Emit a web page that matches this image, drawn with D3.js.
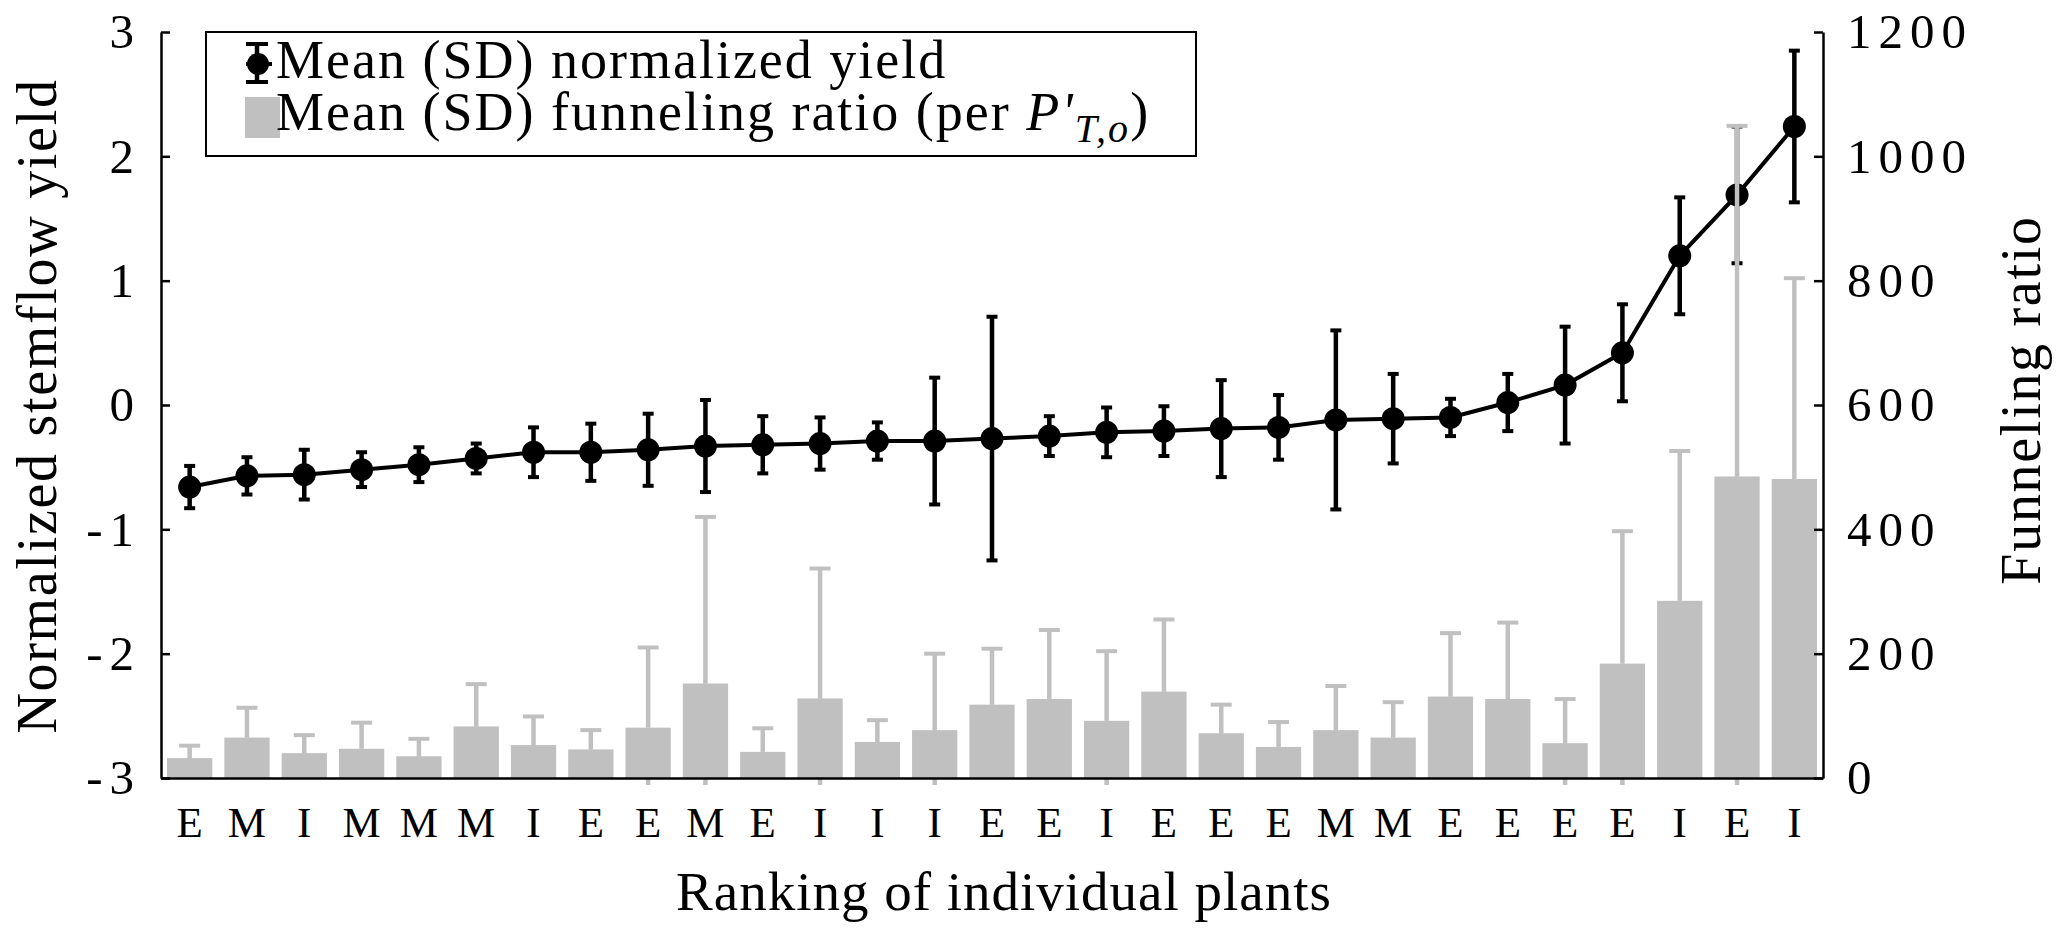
<!DOCTYPE html>
<html>
<head>
<meta charset="utf-8">
<script src="https://cdn.jsdelivr.net/npm/d3@7"></script>
<style>
  body { margin: 0; background: #fff; }
  text { font-family: "Liberation Serif", "Times New Roman", serif; fill: #000; }
</style>
</head>
<body>
<div id="chart"></div>
<script>
// plant type of each ranked plant
const labels = ["E","M","I","M","M","M","I","E","E","M","E","I","I","I","E",
                "E","I","E","E","E","M","M","E","E","E","E","I","E","I"];

// normalized stemflow yield, mean and SD
const yieldMean = [-0.66,-0.57,-0.56,-0.52,-0.48,-0.43,-0.38,-0.38,-0.36,-0.33,-0.32,-0.31,-0.29,-0.29,-0.27,
                   -0.25,-0.22,-0.21,-0.19,-0.18,-0.12,-0.11,-0.10,0.02,0.16,0.42,1.20,1.69,2.24];
const yieldSD = [0.17,0.15,0.20,0.14,0.14,0.12,0.20,0.23,0.29,0.37,0.23,0.21,0.15,0.51,0.98,
                 0.16,0.20,0.20,0.39,0.26,0.72,0.36,0.15,0.23,0.47,0.39,0.47,0.55,0.61];

// funneling ratio, mean and SD
const ratioMean = [32,65,40,47,35,83,53,46,81,152,42,128,58,77,118,
                   127,92,139,72,50,77,65,131,127,56,184,285,485,481];
const ratioSD = [20,48,29,42,28,68,46,31,129,268,38,209,35,123,90,
                 111,112,116,46,40,71,57,102,123,71,213,241,564,323];

const leftTicks = [-3,-2,-1,0,1,2,3];
const rightTicks = [0,200,400,600,800,1000,1200];

// canvas
const canvasWidth = 2067;
const canvasHeight = 932;
const margin = { top: 32, right: 244, bottom: 154, left: 161 };
const w = canvasWidth - margin.left - margin.right;
const h = canvasHeight - margin.top - margin.bottom;

const barGray = "#c0c0c0";

const svg = d3.select("#chart")
  .append("svg")
    .attr("width", canvasWidth)
    .attr("height", canvasHeight)
    .style("background", "#fff");

const g = svg.append("g")
  .attr("transform", `translate(${margin.left},${margin.top})`);

// scales
const xScale = d3.scaleBand()
  .domain(d3.range(labels.length))
  .range([0, w])
  .paddingInner(0.21)
  .paddingOuter(0.105);
const cx = i => xScale(i) + xScale.bandwidth() / 2;

const yLeft = d3.scaleLinear().domain([-3, 3]).range([h, 0]);
const yRight = d3.scaleLinear().domain([0, 1200]).range([h, 0]);

// lower SD of the bars, only shows below the axis
g.append("g").selectAll("line")
  .data(ratioMean)
  .join("line")
    .attr("x1", (d, i) => cx(i))
    .attr("x2", (d, i) => cx(i))
    .attr("y1", d => yRight(d))
    .attr("y2", (d, i) => Math.min(yRight(d - ratioSD[i]), h + 7))
    .attr("stroke", barGray)
    .attr("stroke-width", 4.5);

// bars
g.append("g").selectAll("rect")
  .data(ratioMean)
  .join("rect")
    .attr("x", (d, i) => xScale(i))
    .attr("y", d => yRight(d))
    .attr("width", xScale.bandwidth())
    .attr("height", d => h - yRight(d))
    .attr("fill", barGray);

// axes
const styleAxis = (sel, size, spacing) => {
  sel.select(".domain").attr("stroke", "#000").attr("stroke-width", 2.5);
  sel.selectAll(".tick line").attr("stroke", "#000").attr("stroke-width", 2.5);
  sel.selectAll(".tick text")
    .attr("font-size", size + "px")
    .attr("letter-spacing", spacing)
    .attr("font-family", "Liberation Serif, serif");
};

const leftAxis = g.append("g")
  .call(d3.axisLeft(yLeft).tickValues(leftTicks).tickSizeInner(-9).tickSizeOuter(0)
    .tickPadding(27).tickFormat(d => String(d)));
styleAxis(leftAxis, 49, 7);
leftAxis.selectAll(".tick text").attr("dx", 7);

const rightAxis = g.append("g")
  .attr("transform", `translate(${w},0)`)
  .call(d3.axisRight(yRight).tickValues(rightTicks).tickSizeInner(-9).tickSizeOuter(0)
    .tickPadding(24).tickFormat(d => String(d)));
styleAxis(rightAxis, 49, 7);

const bottomAxis = g.append("g")
  .attr("transform", `translate(0,${h})`)
  .call(d3.axisBottom(xScale).tickSize(0).tickSizeOuter(0).tickFormat(i => labels[i]));
styleAxis(bottomAxis, 43, 0);
bottomAxis.selectAll(".tick text").attr("y", 59).attr("dy", 0);

// yield line
const line = d3.line()
  .x((d, i) => cx(i))
  .y(d => yLeft(d));

g.append("path")
  .datum(yieldMean)
  .attr("d", line)
  .attr("fill", "none")
  .attr("stroke", "#000")
  .attr("stroke-width", 4);

// yield error bars
const yErr = g.append("g");
yErr.selectAll("line.v")
  .data(yieldMean)
  .join("line")
    .attr("class", "v")
    .attr("x1", (d, i) => cx(i))
    .attr("x2", (d, i) => cx(i))
    .attr("y1", (d, i) => yLeft(d + yieldSD[i]))
    .attr("y2", (d, i) => yLeft(d - yieldSD[i]))
    .attr("stroke", "#000")
    .attr("stroke-width", 4.5);
[1, -1].forEach(sign => {
  yErr.selectAll(null)
    .data(yieldMean)
    .join("line")
      .attr("x1", (d, i) => cx(i) - 5.5)
      .attr("x2", (d, i) => cx(i) + 5.5)
      .attr("y1", (d, i) => yLeft(d + sign * yieldSD[i]))
      .attr("y2", (d, i) => yLeft(d + sign * yieldSD[i]))
      .attr("stroke", "#000")
      .attr("stroke-width", 4);
});

// yield points
g.append("g").selectAll("circle")
  .data(yieldMean)
  .join("circle")
    .attr("cx", (d, i) => cx(i))
    .attr("cy", d => yLeft(d))
    .attr("r", 11.5)
    .attr("fill", "#000");

// upper SD of the bars, drawn on top
const rErr = g.append("g");
rErr.selectAll("line.v")
  .data(ratioMean)
  .join("line")
    .attr("class", "v")
    .attr("x1", (d, i) => cx(i))
    .attr("x2", (d, i) => cx(i))
    .attr("y1", d => yRight(d))
    .attr("y2", (d, i) => yRight(d + ratioSD[i]))
    .attr("stroke", barGray)
    .attr("stroke-width", 4.5);
rErr.selectAll("line.cap")
  .data(ratioMean)
  .join("line")
    .attr("class", "cap")
    .attr("x1", (d, i) => cx(i) - 10.5)
    .attr("x2", (d, i) => cx(i) + 10.5)
    .attr("y1", (d, i) => yRight(d + ratioSD[i]))
    .attr("y2", (d, i) => yRight(d + ratioSD[i]))
    .attr("stroke", barGray)
    .attr("stroke-width", 4);

// axis titles
svg.append("text")
  .attr("transform", "translate(56,406) rotate(-90)")
  .attr("text-anchor", "middle")
  .attr("font-size", "56px")
  .attr("letter-spacing", 1.7)
  .text("Normalized stemflow yield");

svg.append("text")
  .attr("transform", "translate(2040,400) rotate(-90)")
  .attr("text-anchor", "middle")
  .attr("font-size", "56px")
  .attr("letter-spacing", 1.7)
  .text("Funneling ratio");

svg.append("text")
  .attr("x", 1004)
  .attr("y", 910)
  .attr("text-anchor", "middle")
  .attr("font-size", "55px")
  .attr("letter-spacing", 1)
  .text("Ranking of individual plants");

// legend
const legend = svg.append("g");
legend.append("rect")
  .attr("x", 206).attr("y", 32)
  .attr("width", 990).attr("height", 124)
  .attr("fill", "#fff")
  .attr("stroke", "#000")
  .attr("stroke-width", 2);

legend.append("line")
  .attr("x1", 257).attr("x2", 257).attr("y1", 44).attr("y2", 82)
  .attr("stroke", "#000").attr("stroke-width", 4.5);
[44, 82].forEach(y => legend.append("line")
  .attr("x1", 246).attr("x2", 268).attr("y1", y).attr("y2", y)
  .attr("stroke", "#000").attr("stroke-width", 4));
legend.append("line")
  .attr("x1", 246).attr("x2", 272).attr("y1", 64).attr("y2", 64)
  .attr("stroke", "#000").attr("stroke-width", 4);
legend.append("circle")
  .attr("cx", 258).attr("cy", 64).attr("r", 11)
  .attr("fill", "#000");

legend.append("rect")
  .attr("x", 245).attr("y", 97)
  .attr("width", 35).attr("height", 41)
  .attr("fill", barGray);

legend.append("text")
  .attr("x", 276).attr("y", 78)
  .attr("font-size", "54px")
  .attr("letter-spacing", 2)
  .text("Mean (SD) normalized yield");

const t2 = legend.append("text")
  .attr("x", 276).attr("y", 130)
  .attr("font-size", "54px")
  .attr("letter-spacing", 2);
t2.append("tspan").text("Mean (SD) funneling ratio (per ");
t2.append("tspan").attr("font-style", "italic").text("P'");
t2.append("tspan").attr("font-style", "italic").attr("font-size", "40px")
  .attr("dy", 12).text("T,o");
t2.append("tspan").attr("dy", -12).text(")");
</script>
</body>
</html>
